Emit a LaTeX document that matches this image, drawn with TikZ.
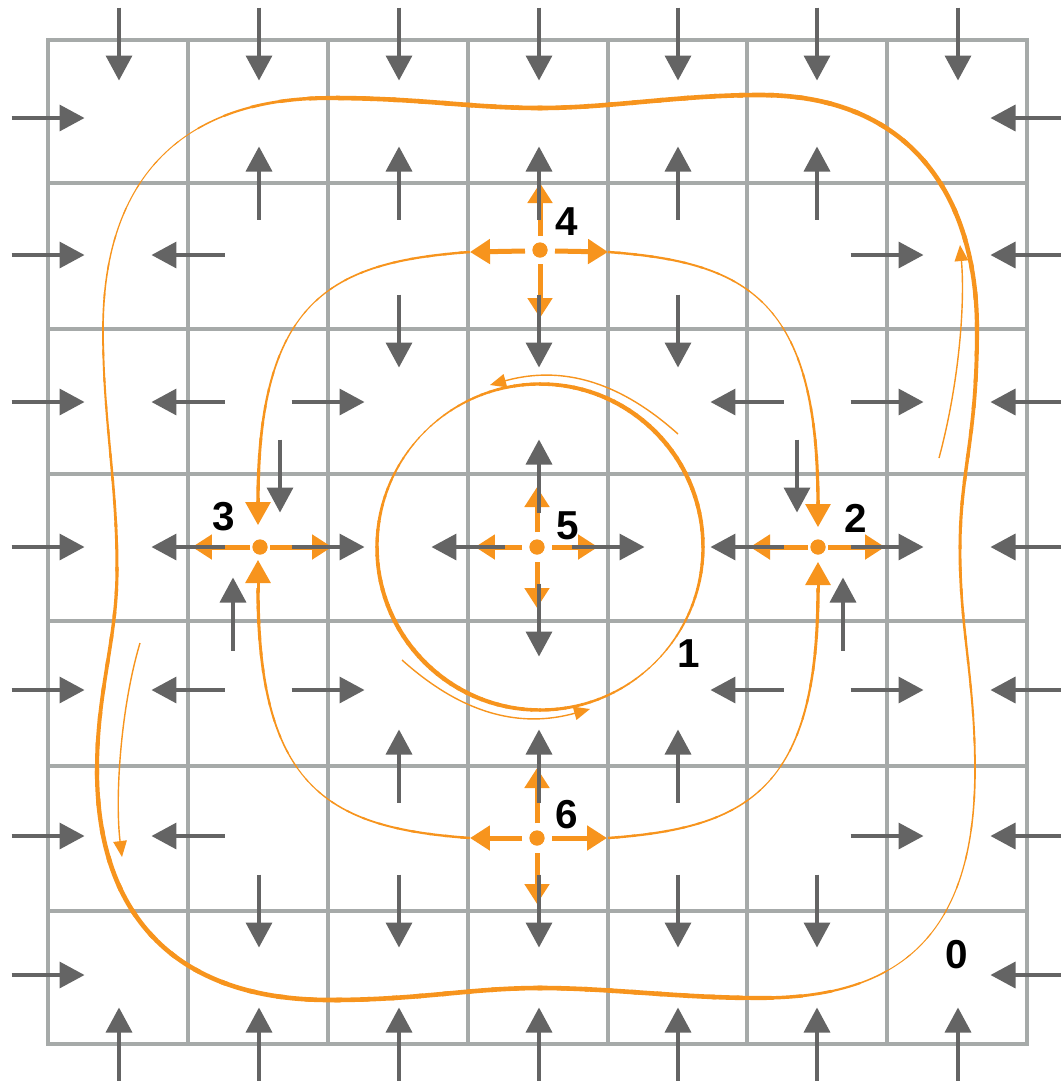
\documentclass[tikz,border=0pt]{standalone}
\usepackage{fontspec}
\usetikzlibrary{arrows.meta}
\newfontfamily\labfont{Liberation Sans}
\definecolor{gridc}{RGB}{166,170,169}
\definecolor{garc}{RGB}{100,100,100}
\definecolor{orc}{RGB}{247,148,29}
% #1 angle offset, #2 width expression (uses \p and \m), #3 path
\newcommand\taperdraw[3]{%
  \foreach \a in {0,3,...,357}{%
    \pgfmathsetmacro\m{\a+1.5}%
    \pgfmathsetmacro\p{mod(\m+#1,180)}%
    \pgfmathsetmacro\w{(#2)*0.02}%
    \pgfmathsetmacro\aa{\a-0.3}%
    \pgfmathsetmacro\bb{\a+3.3}%
    \begin{scope}
      \clip (540,547) -- +(\aa:1600) -- +(\bb:1600) -- cycle;
      \draw[orc,line width=\w cm] #3;
    \end{scope}
  }%
}
\begin{document}
\begin{tikzpicture}[x=0.02cm,y=-0.02cm,
  gridline/.style={draw=gridc,line width=0.095cm},
  garrow/.style={draw=garc,line width=0.07cm,-{Triangle[length=0.5cm,width=0.52cm]}},
  oarrow/.style={draw=orc,line width=0.1cm,-{Triangle[length=0.4cm,width=0.48cm]}},
  ohead/.style={draw=orc,line width=0.06cm,-{Triangle[length=0.46cm,width=0.5cm]}},
  othin/.style={draw=orc,line width=0.028cm,-{Triangle[length=0.32cm,width=0.27cm]}},
  odot/.style={circle,fill=orc,inner sep=0,minimum size=0.3cm},
  lab/.style={inner sep=0,font=\labfont\bfseries\fontsize{23}{23}\selectfont}
]
\useasboundingbox (0,0) rectangle (1061,1083);
\fill[white] (0,0) rectangle (1061,1083);
% grid
\foreach \x in {188,328,468,608,747,887}
  \draw[gridline] (\x,40) -- (\x,1044);
\foreach \y in {183,329,474,621,766,911}
  \draw[gridline] (48,\y) -- (1027,\y);
\draw[gridline] (48,40) rectangle (1027,1044);
% outer closed orbit 0
\taperdraw{497}{\p<7 ? 1 : (\p<24 ? 1+3.6*(\p-7)/17 : (\p<100 ? 4.6 : 4.6-3.6*(\p-100)/80))}
 {(330,98) .. controls (420,98) and (470,108) .. (540,108)
   .. controls (610,108) and (680,95) .. (760,95)
   .. controls (910,95) and (977,195) .. (977,330)
   .. controls (977,440) and (960,470) .. (960,550)
   .. controls (960,630) and (975,680) .. (975,770)
   .. controls (975,935) and (900,998) .. (760,998)
   .. controls (680,998) and (610,988) .. (540,988)
   .. controls (470,988) and (420,1000) .. (330,1000)
   .. controls (180,1000) and (97,920) .. (97,770)
   .. controls (97,690) and (117,640) .. (117,570)
   .. controls (117,480) and (103,420) .. (103,330)
   .. controls (103,175) and (185,98) .. (330,98) -- cycle}
% orbit 1
\taperdraw{495}{1+3.4*sin(\p)}{(540,547) circle [radius=163]}
% inner separatrix loop
\taperdraw{0}{1+abs(cos(2*\m))*(1.6+0.9*cos(\m)*cos(\m))}
 {(470,252) .. controls (330,262) and (258,300) .. (258,503)
  (608,252) .. controls (748,262) and (818,300) .. (818,505)
  (470,838) .. controls (330,828) and (258,790) .. (258,588)
  (608,838) .. controls (748,828) and (818,790) .. (818,588)}
% small flow arrows
\draw[othin] (939,458) .. controls (960,380) and (965,300) .. (960,245);
\draw[othin] (140,643) .. controls (120,710) and (115,800) .. (122,857);
\draw[othin] (678,434) .. controls (640,400) and (580,360) .. (490,385);
\draw[othin] (402,660) .. controls (440,694) and (500,734) .. (590,709);
% heads into saddles 3 and 2
\draw[ohead] (258,498) -- (258,525);
\draw[ohead] (258,592) -- (258,560);
\draw[ohead] (818,500) -- (818,527);
\draw[ohead] (818,592) -- (818,562);
% critical points
\node[odot] (p4) at (540,250) {};
\node[odot] (p5) at (537,547) {};
\node[odot] (p6) at (537,838) {};
\node[odot] (p3) at (260,547) {};
\node[odot] (p2) at (818,547) {};
\draw[oarrow] (540,236) -- (540,183);
\draw[oarrow] (540,264) -- (540,318);
\draw[oarrow] (525,251) -- (470,252);
\draw[oarrow] (555,251) -- (608,252);
\draw[oarrow] (537,532) -- (537,487);
\draw[oarrow] (537,562) -- (537,608);
\draw[oarrow] (522,547) -- (475,547);
\draw[oarrow] (552,547) -- (598,547);
\draw[oarrow] (537,823) -- (537,768);
\draw[oarrow] (537,853) -- (537,904);
\draw[oarrow] (522,838) -- (470,838);
\draw[oarrow] (552,838) -- (607,838);
\draw[oarrow] (250,547) -- (192,547);
\draw[oarrow] (270,547) -- (332,547);
\draw[oarrow] (808,547) -- (750,547);
\draw[oarrow] (828,547) -- (885,547);
% gray field arrows, horizontal
\foreach \x/\y/\d in {48/118/1,1027/118/-1,
  48/255/1,188/255/-1,887/255/1,1027/255/-1,
  48/402/1,188/402/-1,328/402/1,747/402/-1,887/402/1,1027/402/-1,
  48/547/1,188/547/-1,328/547/1,468/547/-1,608/547/1,747/547/-1,887/547/1,1027/547/-1,
  48/690/1,188/690/-1,328/690/1,747/690/-1,887/690/1,1027/690/-1,
  48/836/1,188/836/-1,887/836/1,1027/836/-1,
  48/975/1,1027/975/-1}
  \draw[garrow] (\x-36.5*\d,\y) -- (\x+36.5*\d,\y);
% gray field arrows, vertical
\foreach \x/\y/\d in {119/44/1,119/1044/-1,
  259/44/1,259/183/-1,259/911/1,259/1044/-1,280/476/1,233/614/-1,
  399/44/1,399/183/-1,399/331/1,399/766/-1,399/911/1,399/1044/-1,
  539/44/1,539/183/-1,539/331/1,539/476/-1,539/620/1,539/766/-1,539/911/1,539/1044/-1,
  678/44/1,678/183/-1,678/331/1,678/766/-1,678/911/1,678/1044/-1,
  817/44/1,817/183/-1,817/911/1,817/1044/-1,797/476/1,843/614/-1,
  958/44/1,958/1044/-1}
  \draw[garrow] (\x,\y-36.5*\d) -- (\x,\y+36.5*\d);
\node[odot] at (p4) {};
\node[odot] at (p5) {};
\node[odot] at (p6) {};
\node[odot] at (p3) {};
\node[odot] at (p2) {};
% labels
\node[lab] (l0) at (957,955) {0};
\node[lab] (l1) at (689,654) {1};
\node[lab] (l2) at (856,518) {2};
\node[lab] (l3) at (224,517) {3};
\node[lab] (l4) at (567,222) {4};
\node[lab] (l5) at (568,526) {5};
\node[lab] (l6) at (567,815) {6};
\end{tikzpicture}
\end{document}
